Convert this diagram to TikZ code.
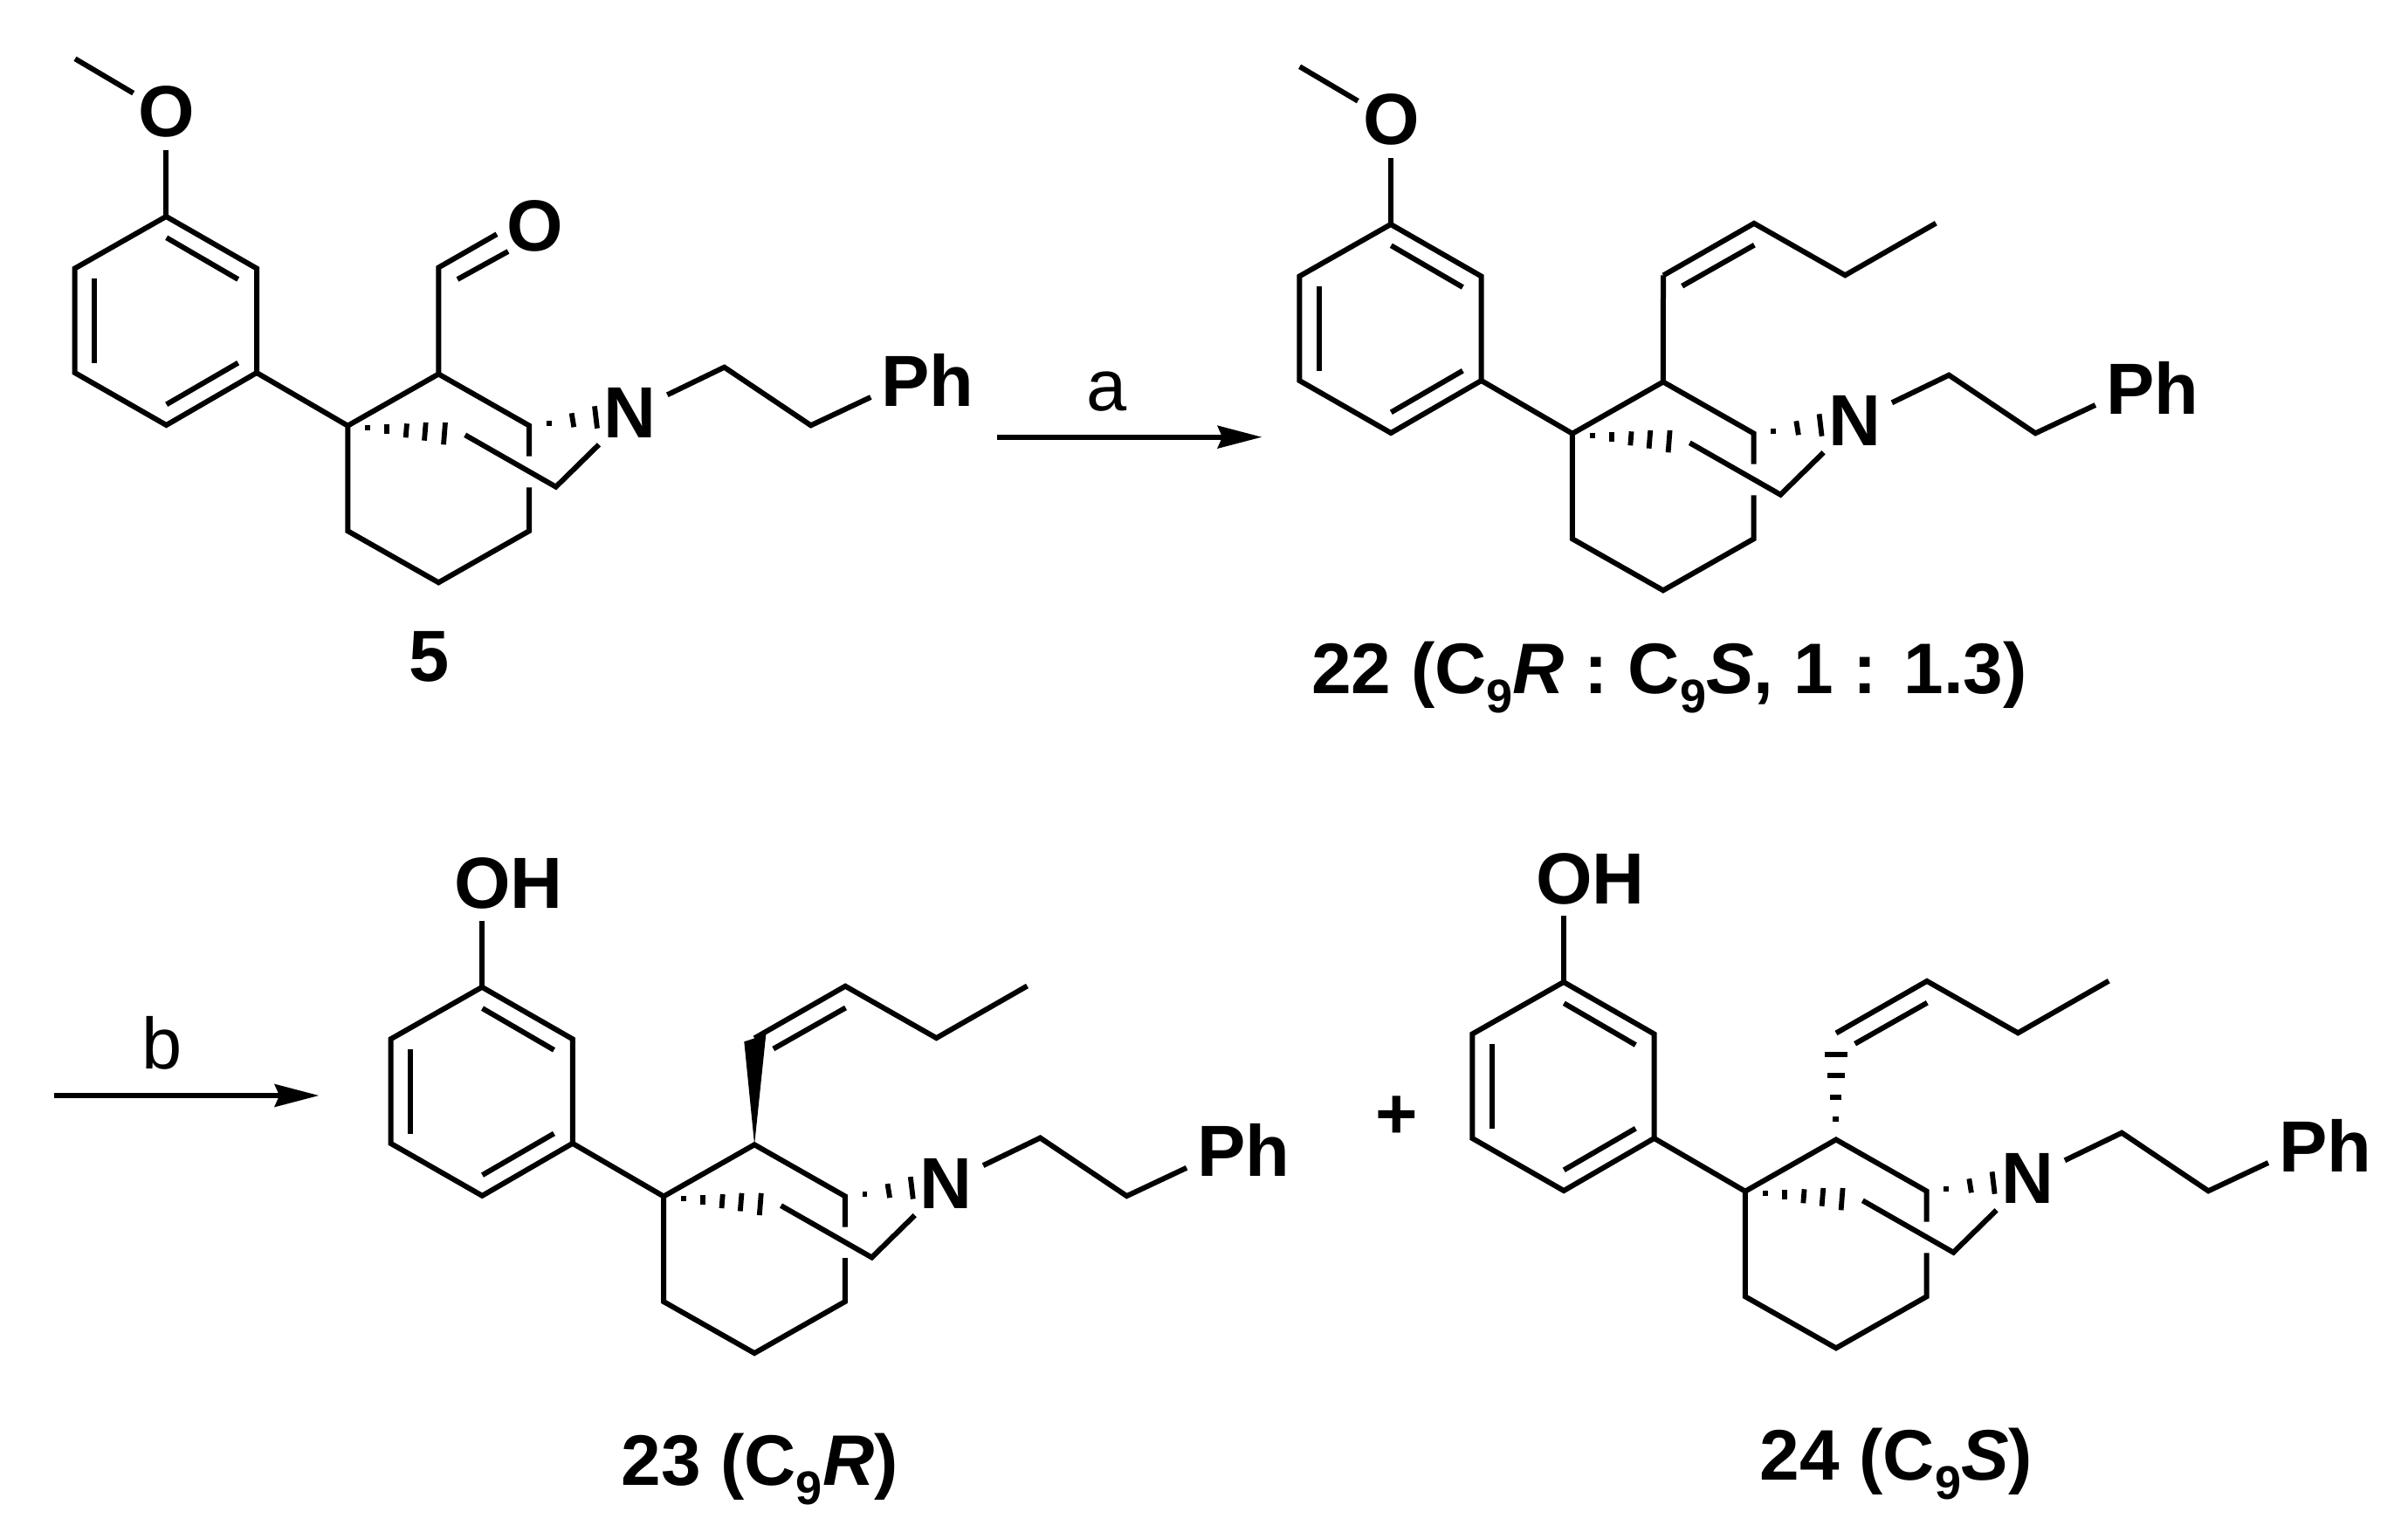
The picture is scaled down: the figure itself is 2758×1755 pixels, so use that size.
\documentclass[tikz,border=0pt]{standalone}
\usepackage{fontspec}
\setmainfont{Liberation Sans}
\newcommand{\subnine}{\raisebox{-0.28em}{\fontsize{27}{27}\selectfont 9}}
\tikzset{
  bond/.style={line width=3pt,line join=miter,line cap=butt},
  hashbar/.style={line width=2.9pt},
  atom/.style={inner sep=0pt,font=\fontsize{41.5}{41.5}\selectfont\bfseries},
  caption/.style={inner sep=0pt,font=\fontsize{41}{41}\selectfont\bfseries},
  plain/.style={inner sep=0pt,font=\fontsize{41.5}{41.5}\selectfont},
  rxn/.style={line width=3pt},
  head/.style={fill=black}
}
\newcommand{\molcore}[1]{%
  \coordinate (#1bt) at (190.3,171.7);
  \coordinate (#1a1) at (190.3,248);
  \coordinate (#1a2) at (294,307.5);
  \coordinate (#1a3) at (294,427);
  \coordinate (#1a4) at (190.5,487);
  \coordinate (#1a5) at (85.7,427);
  \coordinate (#1a6) at (85.7,307.5);
  \coordinate (#1i1) at (190.7,272.3);
  \coordinate (#1i2) at (272.7,320);
  \coordinate (#1i3) at (272.7,415.7);
  \coordinate (#1i4) at (190.7,463.3);
  \coordinate (#1i5) at (108,318.7);
  \coordinate (#1i6) at (108,415.7);
  \coordinate (#1q) at (398.3,487.7);
  \coordinate (#1c2) at (502.3,428.5);
  \coordinate (#1c3) at (606,487.5);
  \coordinate (#1c3b) at (606,522.7);
  \coordinate (#1c3c) at (606,558.3);
  \coordinate (#1c3d) at (606,608.3);
  \coordinate (#1c4) at (502.3,667.3);
  \coordinate (#1c5) at (398.3,608.3);
  \coordinate (#1b1) at (532.7,498.3);
  \coordinate (#1b2) at (636.7,557.7);
  \coordinate (#1b3) at (686,509.3);
  \coordinate (#1n1) at (764.3,452.3);
  \coordinate (#1n2) at (829.6,420.7);
  \coordinate (#1n3) at (928.7,487.3);
  \coordinate (#1n4) at (997.3,455);
  \node[atom] (#1N) at (721.7,472.7) {N};
  \node[atom,anchor=base west] (#1Ph) at (1009,465) {Ph};
  \draw[bond] (#1a1) -- (#1a2) -- (#1a3) -- (#1a4) -- (#1a5) -- (#1a6) -- cycle;
  \draw[bond] (#1i1) -- (#1i2);
  \draw[bond] (#1i3) -- (#1i4);
  \draw[bond] (#1i5) -- (#1i6);
  \draw[bond] (#1bt) -- (#1a1);
  \draw[bond] (#1a3) -- (#1q) -- (#1c2) -- (#1c3) -- (#1c3b);
  \draw[bond] (#1c3c) -- (#1c3d) -- (#1c4) -- (#1c5) -- (#1q);
  \draw[bond] (#1b1) -- (#1b2) -- (#1b3);
  \draw[bond] (#1n1) -- (#1n2) -- (#1n3) -- (#1n4);
  \draw[hashbar] (421,487) -- (421,492.7);
  \draw[hashbar] (443,486) -- (443,496.7);
  \draw[hashbar] (466,485.3) -- (464.7,501.3);
  \draw[hashbar] (487.7,484) -- (486,504.7);
  \draw[hashbar] (510,484) -- (508,509.3);
  \draw[hashbar] (628.7,481.7) -- (628.7,488.3);
  \draw[hashbar] (654.7,473.3) -- (657.3,489.3);
  \draw[hashbar] (681,465.3) -- (684,490.7);
}
\newcommand{\molchain}[1]{%
  \coordinate (#1h1) at (502.4,306.5);
  \coordinate (#1h2) at (606.4,246.9);
  \coordinate (#1h3) at (710.7,306.3);
  \coordinate (#1h4) at (814.7,246.7);
  \coordinate (#1j1) at (524,318.7);
  \coordinate (#1j2) at (606.7,271.7);
  \draw[bond] (#1h1) -- (#1h2) -- (#1h3) -- (#1h4);
  \draw[bond] (#1j1) -- (#1j2);
}
\newcommand{\methoxy}[1]{%
  \node[atom] (#1O) at (190.7,128.3) {O};
  \coordinate (#1me) at (86,67.3);
  \coordinate (#1mo) at (152.7,106.7);
  \draw[bond] (#1me) -- (#1mo);
}
\begin{document}
\begin{tikzpicture}[x=0.5pt,y=-0.5pt]
\useasboundingbox (0,0) rectangle (2758,1755);
\fill[white] (0,0) rectangle (2758,1755);

% compound 5
\begin{scope}
  \molcore{A}
  \methoxy{A}
  \coordinate (Aal) at (502.3,306.5);
  \coordinate (Aox) at (569,268.3);
  \coordinate (Ad1) at (524,320);
  \coordinate (Ad2) at (582,288);
  \draw[bond] (Ac2) -- (Aal) -- (Aox);
  \draw[bond] (Ad1) -- (Ad2);
  \node[atom] (AO2) at (613,258.7) {O};
\end{scope}
\node[atom,anchor=base] (Alabel) at (491.7,780) {5};

% arrow a
\coordinate (arA1) at (1142,500.7);
\coordinate (arA2) at (1400,500.7);
\coordinate (arA3) at (1445,500.7);
\draw[rxn] (arA1) -- (arA2);
\fill[head] (arA3) -- (1394,487.3) -- (1400,500.7) -- (1394,514) -- cycle;
\node[plain,anchor=base] (lblA) at (1267.3,470) {a};

% compound 22
\begin{scope}[shift={(1402.6,9)}]
  \molcore{B}
  \methoxy{B}
  \molchain{B}
  \draw[bond] (Bc2) -- (Bh1);
\end{scope}
\node[caption,anchor=base] (Blabel) at (1912,794) {22 (C\subnine\textit{R} : C\subnine\textit{S}, 1 : 1.3)};

% arrow b
\coordinate (arB1) at (62,1255);
\coordinate (arB2) at (320,1255);
\coordinate (arB3) at (365,1255);
\draw[rxn] (arB1) -- (arB2);
\fill[head] (arB3) -- (314,1241.6) -- (320,1255) -- (314,1268.4) -- cycle;
\node[plain] (lblB) at (186,1195) {b};

% compound 23
\begin{scope}[shift={(361.8,882.8)}]
  \molcore{C}
  \molchain{C}
  \node[atom,anchor=west] (COH) at (158.2,129.5) {OH};
  \fill (Cc2) -- (490.5,310.5) -- (515.5,302.2) -- cycle;
\end{scope}
\node[caption,anchor=base] (Clabel) at (870,1701) {23 (C\subnine\textit{R})};

% plus
\node[atom] (plus) at (1600,1280) {+};

% compound 24
\begin{scope}[shift={(1600.6,877)}]
  \molcore{D}
  \molchain{D}
  \node[atom,anchor=west] (DOH) at (158.2,129.5) {OH};
  \draw[hashbar] (489.4,330.7) -- (515.1,330.7);
  \draw[hashbar] (492.4,355) -- (512.1,355);
  \draw[hashbar] (495.4,379.7) -- (508.4,379.7);
  \draw[hashbar] (498.7,404.7) -- (505.4,404.7);
\end{scope}
\node[caption,anchor=base] (Dlabel) at (2172,1695) {24 (C\subnine\textit{S})};
\end{tikzpicture}
\end{document}
